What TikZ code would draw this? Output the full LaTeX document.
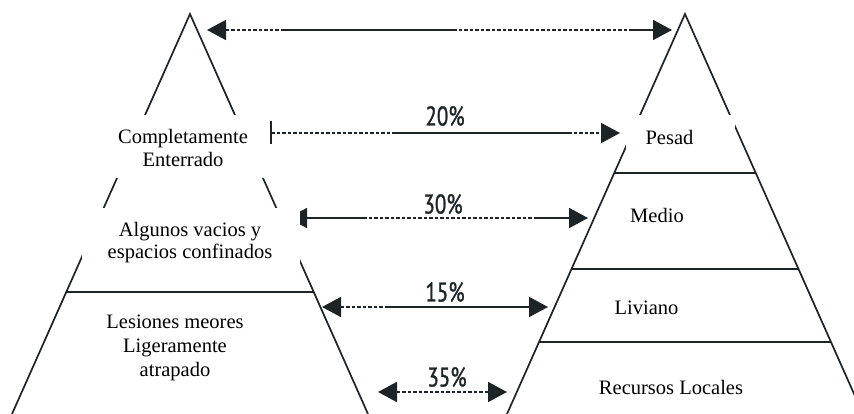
\documentclass[tikz,border=0pt]{standalone}
\usepackage{fontspec}
\setmainfont{Liberation Serif}
\newfontfamily\labfont[FakeBold=1.2]{PT Sans}
\usetikzlibrary{arrows.meta}
\definecolor{ink}{HTML}{1C2427}
\newcommand\pctlab[1]{\scalebox{0.78}[1]{#1}}
\tikzset{
  edge/.style={line width=1.7pt, draw=ink, line join=miter},
  conn/.style={line width=1.8pt, draw=ink},
  dsh/.style={dash pattern=on 3.5pt off 2pt},
  >={Triangle[length=19pt,width=20pt]},
  cover/.style={fill=white, draw=none, inner sep=0pt, anchor=north west},
  lbl/.style={font=\fontsize{20.5}{23}\selectfont, align=center, inner sep=0pt, text=black},
  pct/.style={font=\labfont\fontsize{27}{27}\selectfont, inner sep=0pt, text=ink},
}
\begin{document}
\begin{tikzpicture}[x=1pt,y=-1pt]
\clip (0,0) rectangle (854,414);
\fill[white] (0,0) rectangle (854,414);
% left pyramid
\coordinate (LA) at (190,14);
\coordinate (LB) at (12,414);
\coordinate (LC) at (368,414);
\draw[edge] (LB) -- (LA) -- (LC);
\coordinate (L1a) at (66,292);
\coordinate (L1b) at (314,292);
\draw[edge] (L1a) -- (L1b);
% right pyramid
\coordinate (RA) at (685,14);
\coordinate (RB) at (507,414);
\coordinate (RC) at (863,414);
\draw[edge] (RB) -- (RA) -- (RC);
\coordinate (R1a) at (614,173); \coordinate (R1b) at (756,173);
\coordinate (R2a) at (572,269); \coordinate (R2b) at (798,269);
\coordinate (R3a) at (539,342); \coordinate (R3b) at (831,342);
\draw[edge] (R1a) -- (R1b);
\draw[edge] (R2a) -- (R2b);
\draw[edge] (R3a) -- (R3b);
% top arrow
\coordinate (T0) at (207,30); \coordinate (T1) at (282,30);
\coordinate (T2) at (453,30); \coordinate (T3) at (630,30);
\coordinate (T4) at (672,30);
\draw[conn,dsh,<-] (T0) -- (T1);
\draw[conn] (T1) -- (T2);
\draw[conn,dsh] (T2) -- (T3);
\draw[conn,->] (T3) -- (T4);
% 20%
\coordinate (A0) at (270,133); \coordinate (A1) at (395,133);
\coordinate (A2) at (568,133); \coordinate (A3) at (620,133);
\draw[conn,dsh,{Bar[width=23pt,line width=1.8pt]}-] (A0) -- (A1);
\draw[conn] (A1) -- (A2);
\draw[conn,dsh,->] (A2) -- (A3);
\node[pct] (p20) at (445,116) {\pctlab{20\%}};
% 30%
\coordinate (B0) at (288,218); \coordinate (B1) at (363,218);
\coordinate (B2) at (537,218); \coordinate (B3) at (588,218);
\draw[conn,<-] (B0) -- (B1);
\draw[conn,dsh] (B1) -- (B2);
\draw[conn,->] (B2) -- (B3);
\node[pct] (p30) at (443,204) {\pctlab{30\%}};
% 15%
\coordinate (C0) at (322,307); \coordinate (C1) at (385,307);
\coordinate (C2) at (548,307);
\draw[conn,dsh,<-] (C0) -- (C1);
\draw[conn,->] (C1) -- (C2);
\node[pct] (p15) at (445,292) {\pctlab{15\%}};
% 35%
\coordinate (D0) at (378,392); \coordinate (D1) at (507,392);
\draw[conn,dsh,<->] (D0) -- (D1);
\node[pct] (p35) at (447,377) {\pctlab{35\%}};
% white label boxes
\node[cover, minimum width=157pt, minimum height=63pt] (boxC) at (112,115) {};
\node[cover, minimum width=218pt, minimum height=80pt] (boxA) at (82,208) {};
\node[cover, minimum width=109pt, minimum height=47pt] (boxP) at (626,115) {};
% texts
\node[lbl] (tC) at (183,148) {Completamente\\Enterrado};
\node[lbl, font=\fontsize{20.5}{22}\selectfont] (tA) at (190,243) {Algunos vacios y\\espacios confinados};
\node[lbl, font=\fontsize{20.5}{24}\selectfont] (tL) at (175,347.5) {Lesiones meores\\Ligeramente\\atrapado};
\node[lbl] (tP) at (669.5,137) {Pesad};
\node[lbl] (tM) at (657,215) {Medio};
\node[lbl] (tV) at (646.5,308) {Liviano};
\node[lbl] (tR) at (671,387) {Recursos Locales};
\end{tikzpicture}
\end{document}
